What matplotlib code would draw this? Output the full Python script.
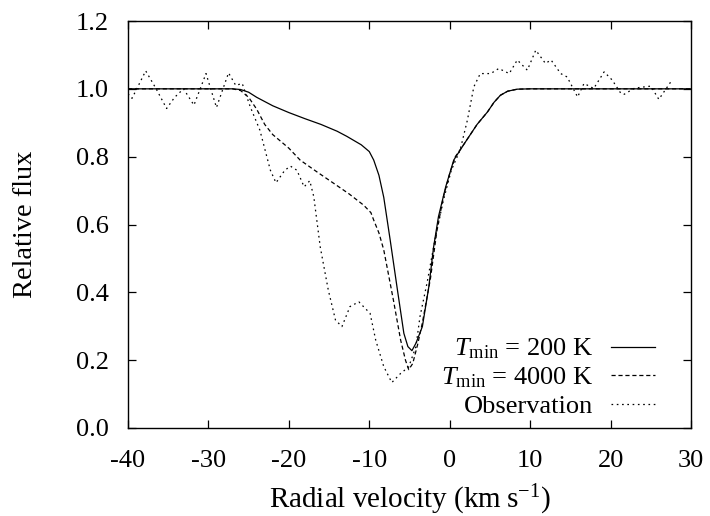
import matplotlib
matplotlib.use("Agg")
import matplotlib.pyplot as plt

plt.rcParams['font.family'] = ['Liberation Serif', 'DejaVu Serif']
plt.rcParams['mathtext.fontset'] = 'custom'
plt.rcParams['mathtext.rm'] = 'Liberation Serif'
plt.rcParams['mathtext.it'] = 'Liberation Serif:italic'
plt.rcParams['axes.unicode_minus'] = False
plt.rcParams['lines.scale_dashes'] = False

# T_min = 200 K model
v_200 = [-40, -30, -27, -26, -25, -24, -22, -20, -18, -16, -14, -12.8, -11, -10, -9.45,
         -8.8, -8.2, -7.4, -6.5, -5.7, -5.2, -4.7, -4.2, -3.4, -2.6, -2.0, -1.4, -0.5,
         0.5, 2.0, 3.4, 4.7, 5.5, 6.3, 7.2, 8.4, 10, 30]
f_200 = [1.0, 1.0, 1.0, 0.998, 0.99, 0.975, 0.95, 0.93, 0.912, 0.895, 0.875, 0.86, 0.835, 0.815, 0.79,
         0.745, 0.68, 0.554, 0.407, 0.279, 0.24, 0.228, 0.25, 0.299, 0.416, 0.534, 0.623, 0.711,
         0.79, 0.845, 0.895, 0.932, 0.96, 0.981, 0.993, 0.999, 1.0, 1.0]

# T_min = 4000 K model
v_4000 = [-40, -27, -26, -25, -24, -23, -22, -21, -20, -18.6, -16.5, -14.4, -12.5, -10.7, -9.8,
          -9.45, -8.8, -8.2, -7.0, -6.1, -5.5, -5.1, -4.6, -4.0, -3.4, -2.4, -1.6, -0.8, 0.0,
          0.7, 2.0, 3.4, 4.7, 5.5, 6.3, 7.2, 8.4, 10, 30]
f_4000 = [1.0, 1.0, 0.995, 0.975, 0.94, 0.895, 0.865, 0.845, 0.825, 0.79, 0.755, 0.721, 0.69, 0.657, 0.635,
          0.613, 0.575, 0.525, 0.377, 0.259, 0.2, 0.172, 0.19, 0.245, 0.31, 0.44, 0.58, 0.68, 0.75,
          0.80, 0.845, 0.895, 0.932, 0.96, 0.981, 0.993, 0.999, 1.0, 1.0]

# Observation
v_obs = [-40, -39.5, -38.7, -37.8, -36.5, -35.2, -34.2, -33.1, -31.8, -30.3, -29.0, -27.5, -26.6,
         -25.8, -24.8, -23.6, -22.3, -21.6, -20.5, -19.8, -19.0, -18.1, -17.4, -16.9, -16.1,
         -15.1, -14.2, -13.4, -12.4, -11.3, -9.9, -9.2, -8.2, -7.2, -6.1, -5.1, -4.2, -3.7,
         -2.8, -1.8, -0.8, 0.2, 1.3, 2.2, 3.0, 3.8, 5.1, 6.1, 7.4, 8.4, 9.65, 10.7, 11.9, 12.6,
         13.8, 14.6, 15.9, 16.7, 17.9, 19.2, 20.2, 21.3, 21.7, 22.9, 23.6, 25.0, 26.0, 27.5]
f_obs = [0.985, 0.972, 1.01, 1.053, 1.0, 0.942, 0.975, 1.0, 0.952, 1.045, 0.945, 1.047, 1.01,
         1.016, 0.947, 0.878, 0.76, 0.723, 0.76, 0.772, 0.76, 0.711, 0.729, 0.682, 0.534,
         0.407, 0.318, 0.299, 0.358, 0.372, 0.338, 0.259, 0.181, 0.134, 0.161, 0.18, 0.24, 0.328,
         0.43, 0.56, 0.67, 0.76, 0.82, 0.908, 1.006, 1.045, 1.045, 1.06, 1.045, 1.085, 1.055, 1.114, 1.075, 1.085,
         1.045, 1.035, 0.976, 1.016, 1.001, 1.05, 1.026, 0.986, 0.984, 1.001, 1.004, 1.008, 0.969, 1.021]

labels = [r'$T_{\rm min}$ = 200 K', r'$T_{\rm min}$ = 4000 K', 'Observation']
xticks = [-40, -30, -20, -10, 0, 10, 20, 30]
yticks = [0.0, 0.2, 0.4, 0.6, 0.8, 1.0, 1.2]

fig = plt.figure(figsize=(7.1, 5.16), dpi=100)
ax = fig.add_axes([128/710, 1 - 428/516, (691-128)/710, (428-21)/516])

lw = 0.9
ax.plot(v_200, f_200, color='black', lw=lw, label=labels[0])
ax.plot(v_4000, f_4000, color='black', lw=lw, dashes=(3.0, 2.0), label=labels[1])
ax.plot(v_obs, f_obs, color='black', lw=lw, dashes=(1.2, 2.6), label=labels[2])

ax.set_xlim(-40, 30)
ax.set_ylim(0.0, 1.2)
ax.set_xticks(xticks)
ax.set_xticklabels([str(t) for t in xticks])
ax.set_yticks(yticks)
ax.set_yticklabels(['%.1f' % t for t in yticks])
ax.tick_params(direction='in', length=5.5, width=0.9, top=True, right=True,
               labelsize=19, pad=15.5)
ax.tick_params(axis='y', pad=14)
for s in ax.spines.values():
    s.set_linewidth(1.0)

ax.set_xlabel(r'Radial velocity (km$\;$s$^{-1}$)', fontsize=21, labelpad=8.5)
ax.set_ylabel('Relative flux', fontsize=20.5, labelpad=27)

leg = ax.legend(loc='lower right', bbox_to_anchor=(655/710, 1 - 418/516),
                bbox_transform=fig.transFigure, frameon=False, markerfirst=False,
                fontsize=19, handlelength=1.65, handletextpad=0.7, labelspacing=0.16,
                borderpad=0, borderaxespad=0)

fig.savefig('out.png', dpi=100)
